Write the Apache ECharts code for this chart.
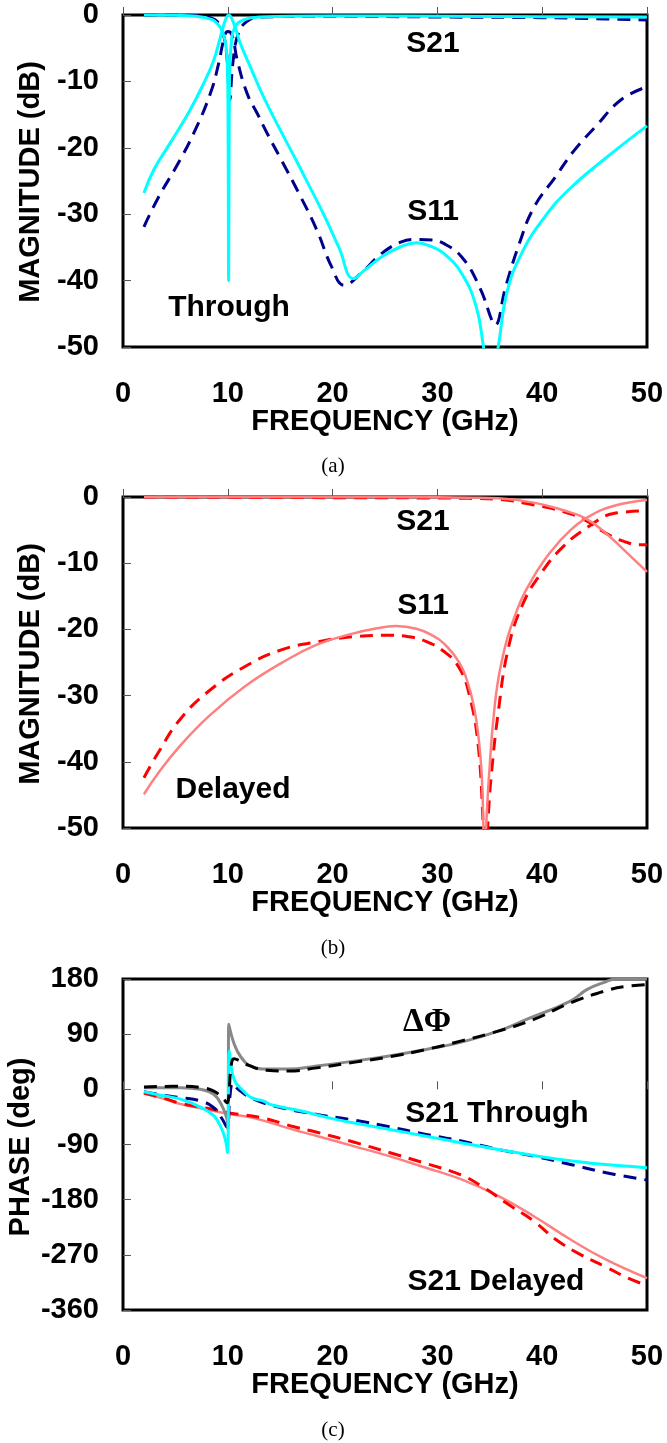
<!DOCTYPE html>
<html><head><meta charset="utf-8">
<script src="https://cdn.jsdelivr.net/npm/echarts@6/dist/echarts.min.js"></script>
<style>html,body{margin:0;padding:0;background:#fff}#c{width:667px;height:1443px}</style>
</head><body><div id="c"></div>
<script>
// ---------- x axis ----------
const xTicks = [0, 10, 20, 30, 40, 50];

// ---------- (a) Through: magnitude (dB) ----------
const aS11MeasF = [2, 2.94, 4.5, 6.4, 7.7, 8.66, 9.3, 9.77, 10.09, 10.56, 11.2, 12.15, 13.4, 15.0, 16.5, 17.5, 19.2, 20.6, 22.0, 23.0, 24.7, 26.5, 28, 29.5, 30.6, 32.3, 33.7, 34.4, 35.0, 35.8, 36.6, 38.0, 40.2, 42.6, 46.1, 50];
const aS11MeasV = [-26.8, -23.3, -19.3, -14.3, -10.3, -6.8, -3.3, -0.75, 0, -1.25, -4.3, -7.8, -12.3, -17.3, -21.8, -24.9, -30.2, -35.0, -39.7, -38.5, -36.4, -34.9, -34.3, -34.9, -35.9, -38.9, -43.9, -50, -56, -50, -42, -36, -30.5, -26.2, -21.5, -16.7];
const aS11SimF = [2, 3.4, 5.17, 6.75, 8.34, 9.13, 9.6, 9.99, 10.4, 10.9, 11.84, 12.8, 13.75, 15.1, 16.8, 18.5, 19.9, 21.1, 22.7, 24.7, 26.5, 27.8, 29.5, 30.6, 32.3, 34.0, 35.3, 35.5, 36.5, 37.8, 39.2, 41.3, 43, 45.1, 47.5, 50];
const aS11SimV = [-31.9, -27.4, -22.6, -17.8, -11.8, -7.3, -3.8, -2.5, -3, -6.8, -11.8, -14.8, -17.8, -21.8, -26.9, -32.4, -37.9, -40.7, -38.9, -35.9, -34.2, -33.8, -33.9, -34.4, -36.4, -40.9, -46.4, -46.7, -41, -34.5, -29, -24.3, -20.5, -16.8, -12.8, -10.8];
const aS21MeasF = [2, 5, 7, 8.5, 9.0, 9.5, 9.85, 10.0, 10.08, 10.16, 10.35, 10.7, 11.5, 13, 20, 30, 40, 50];
const aS21MeasV = [0, -0.05, -0.2, -0.7, -1.3, -2.5, -5, -10, -40, -10, -4, -1.75, -0.75, -0.3, -0.15, -0.2, -0.25, -0.3];
const aS21SimF = [2, 5, 7, 8.5, 9.0, 9.5, 9.9, 10.18, 10.5, 11.0, 11.8, 13, 20, 30, 40, 45, 50];
const aS21SimV = [0, 0, -0.1, -0.5, -1.0, -2.5, -6, -12.8, -7, -2.8, -1, -0.3, -0.2, -0.3, -0.4, -0.55, -0.75];

// ---------- (b) Delayed: magnitude (dB) ----------
const bS11MeasF = [2, 3.37, 5.44, 8.2, 11.65, 15.1, 18.5, 22.0, 24, 26, 28, 29.5, 30.6, 32.0, 33.0, 33.7, 34.2, 34.5, 34.9, 35.4, 36.1, 37.5, 39.2, 40.95, 42.7, 44.4, 46.8, 50];
const bS11MeasV = [-44.9, -41.7, -37.6, -33.1, -28.6, -25.1, -22.3, -20.6, -19.9, -19.5, -19.9, -20.9, -22.1, -24.8, -28.6, -33.6, -41.2, -52, -42.7, -32.6, -25.1, -17.5, -12.0, -8.0, -5.0, -3.0, -1.36, -0.45];
const bS11SimF = [2, 3.37, 5.44, 8.2, 11.65, 15.1, 18.5, 22.0, 25.4, 27.2, 28.9, 30.6, 32.0, 33.0, 33.9, 34.6, 35.1, 35.8, 36.8, 38.2, 39.9, 42.0, 44.4, 46.8, 50];
const bS11SimV = [-42.4, -38.6, -33.6, -29.3, -25.6, -23.1, -21.9, -21.1, -20.9, -21.1, -21.8, -23.3, -25.6, -29.6, -37.6, -52, -42.7, -32.6, -22.6, -16.0, -11.5, -7.5, -4.5, -2.5, -2.1];
const bS21MeasF = [2, 10, 20, 30, 33, 35.8, 39.2, 42.0, 44.1, 46.1, 47.8, 50];
const bS21MeasV = [0, 0, 0, -0.05, -0.1, -0.2, -0.85, -2.0, -3.2, -5.5, -8.0, -11.3];
const bS21SimF = [2, 10, 20, 30, 33, 35.8, 39.2, 42.0, 44.1, 46.1, 47.8, 49.3, 50];
const bS21SimV = [0, -0.05, -0.1, -0.15, -0.2, -0.35, -1.2, -2.2, -3.5, -5.5, -6.7, -7.2, -7.2];

// ---------- (c) Phase (deg) ----------
const cDPhiMeasF = [2, 5.5, 7.4, 8.66, 9.45, 9.93, 10.03, 10.09, 10.57, 11.2, 12.3, 13.7, 15.8, 18.5, 22, 25.4, 28.9, 32.3, 35.8, 38.5, 42.7, 44.3, 46, 47, 50];
const cDPhiMeasV = [2.7, 2.7, 0, -8, -27, -49, -65, 106, 76, 54, 37, 33, 33, 38, 46, 54.5, 65, 77, 95, 114, 144, 163, 175, 180, 180];
const cDPhiSimF = [2, 5.5, 7.4, 8.66, 9.6, 9.93, 10.1, 10.3, 10.6, 11.2, 12, 13.7, 15.8, 18.5, 22, 25.4, 28.9, 32.3, 35.8, 39.2, 42.7, 46.5, 48, 50];
const cDPhiSimV = [4, 5, 3, -3, -16, -22, -10, 35, 50, 46, 39, 31, 30, 35, 44, 53, 65, 79, 95, 114, 141, 163, 168, 171];
const cThruMeasF = [2, 4, 5.5, 7.4, 8.66, 9.3, 9.77, 9.97, 10.15, 10.6, 11.5, 12.3, 13.4, 14.1, 16.9, 20.3, 23.7, 27.2, 30.6, 34.1, 37.5, 41.0, 44.4, 47.8, 50];
const cThruMeasV = [-4, -11, -16, -29, -43, -60, -82, -103, 62, 16, -3, -14, -19, -25, -35, -49, -60, -71, -82, -93, -103, -113, -120, -125, -128];
const cThruSimF = [2, 4, 5.5, 7.4, 8.66, 9.45, 9.93, 10.2, 10.5, 11.0, 12.47, 15.1, 18.5, 22, 25.4, 28.9, 32.3, 35.8, 39.2, 42.7, 46.1, 50];
const cThruSimV = [-4, -10, -13.6, -19, -30, -48, -62, -12, 10, 0, -16, -30, -41, -50, -61, -73.5, -84.4, -98, -109, -122.5, -136, -148];
const cDelMeasF = [2, 4, 5.5, 7.4, 8.66, 10.25, 11.65, 13.4, 15.1, 16.9, 18.5, 22, 25.4, 28.9, 32.3, 35.8, 39.2, 42.7, 46.1, 50];
const cDelMeasV = [-7, -16, -24, -31, -35.4, -40.8, -44, -51, -60, -69, -76, -92.6, -109, -128, -147, -174, -207, -245, -278, -308];
const cDelSimF = [2, 4, 5.5, 7.4, 8.66, 10.25, 11.65, 13.4, 15.1, 16.3, 18.5, 22, 25.4, 28.9, 32.3, 34.4, 36.8, 39.2, 41.3, 43.7, 46.1, 48.2, 50];
const cDelSimV = [-6, -15, -23, -29, -33, -39, -42, -47, -55, -61, -70, -86, -103, -121, -140, -160, -188, -215, -245, -270, -290, -308, -320];

// ---------- helpers ----------
const FONT = '"Liberation Sans", Arial, sans-serif';
const SERIF = '"Liberation Serif", "Times New Roman", serif';
const DASH = [13, 8];
function pairs(fs, vs) { return fs.map((f, i) => [f, vs[i]]); }
function line(fs, vs, gi, color, width, dashed) {
  return {
    type: 'line', xAxisIndex: gi, yAxisIndex: gi, data: pairs(fs, vs),
    showSymbol: false, symbol: 'none', smooth: 0.45,
    lineStyle: { color: color, width: width, type: dashed ? DASH : 'solid', cap: 'butt', join: 'round' },
    clip: true, silent: true, animation: false
  };
}
function xAx(gi) {
  return {
    type: 'value', gridIndex: gi, min: xTicks[0], max: xTicks[xTicks.length - 1], interval: xTicks[1] - xTicks[0],
    axisLine: { show: false }, splitLine: { show: false },
    axisTick: { show: true, inside: true, length: 8, lineStyle: { color: '#555', width: 1 } },
    axisLabel: { margin: 32, color: '#000', fontSize: 29, fontWeight: 'bold', fontFamily: FONT }
  };
}
function yAx(gi, min, max, interval) {
  return {
    type: 'value', gridIndex: gi, min: min, max: max, interval: interval,
    axisLine: { show: false }, splitLine: { show: false },
    axisTick: { show: true, inside: true, length: 8, lineStyle: { color: '#555', width: 1 } },
    axisLabel: { margin: 24, color: '#000', fontSize: 29, fontWeight: 'bold', fontFamily: FONT }
  };
}
function txt(t, x, y, size, rot, family, weight) {
  return {
    type: 'text', x: x, y: y, rotation: rot || 0, silent: true,
    style: {
      text: t, fill: '#000',
      font: (weight || 'bold') + ' ' + size + 'px ' + (family || FONT),
      textAlign: 'center', textVerticalAlign: 'middle', align: 'center', verticalAlign: 'middle'
    }
  };
}
const gridBase = { left: 123, width: 524, show: true, borderColor: '#000', borderWidth: 3, backgroundColor: 'transparent' };

const CYAN = '#00FFFF', NAVY = '#00008B', PINK = '#FF8080', RED = '#FF0000', GRAY = '#888888', BLACK = '#000000';

const option = {
  animation: false,
  backgroundColor: '#fff',
  grid: [
    Object.assign({ top: 15, height: 332 }, gridBase),
    Object.assign({ top: 497, height: 331 }, gridBase),
    Object.assign({ top: 979, height: 331 }, gridBase)
  ],
  xAxis: [xAx(0), xAx(1), xAx(2)],
  yAxis: [yAx(0, -50, 0, 10), yAx(1, -50, 0, 10), yAx(2, -360, 180, 90)],
  series: [
    line(aS21SimF, aS21SimV, 0, NAVY, 3, true),
    line(aS11SimF, aS11SimV, 0, NAVY, 3, true),
    line(aS21MeasF, aS21MeasV, 0, CYAN, 3, false),
    line(aS11MeasF, aS11MeasV, 0, CYAN, 3, false),

    line(bS21SimF, bS21SimV, 1, RED, 3, true),
    line(bS11SimF, bS11SimV, 1, RED, 3, true),
    line(bS21MeasF, bS21MeasV, 1, PINK, 2.5, false),
    line(bS11MeasF, bS11MeasV, 1, PINK, 2.5, false),

    line(cDelMeasF, cDelMeasV, 2, PINK, 2.5, false),
    line(cDelSimF, cDelSimV, 2, RED, 3, true),
    line(cThruSimF, cThruSimV, 2, NAVY, 3, true),
    line(cDPhiMeasF, cDPhiMeasV, 2, GRAY, 3, false),
    line(cThruMeasF, cThruMeasV, 2, CYAN, 3, false),
    line(cDPhiSimF, cDPhiSimV, 2, BLACK, 3, true)
  ],
  graphic: [
    // axis titles
    txt('FREQUENCY (GHz)', 385, 422, 29),
    txt('FREQUENCY (GHz)', 385, 903, 29),
    txt('FREQUENCY (GHz)', 385, 1385, 29),
    txt('MAGNITUDE (dB)', 31, 182, 29, Math.PI / 2),
    txt('MAGNITUDE (dB)', 31, 664, 29, Math.PI / 2),
    txt('PHASE (deg)', 21, 1147, 29, Math.PI / 2),
    // annotations
    txt('S21', 433, 44, 30),
    txt('S11', 433, 212, 30),
    txt('Through', 229, 308, 30),
    txt('S21', 423, 522, 30),
    txt('S11', 423, 606, 30),
    txt('Delayed', 233, 790, 30),
    txt('ΔΦ', 427, 1022, 33, 0, SERIF),
    txt('S21 Through', 497, 1114, 30),
    txt('S21 Delayed', 496, 1282, 30),
    // captions
    txt('(a)', 333, 466, 21, 0, SERIF, 'normal'),
    txt('(b)', 333, 948, 21, 0, SERIF, 'normal'),
    txt('(c)', 333, 1430, 21, 0, SERIF, 'normal')
  ]
};

const chart = echarts.init(document.getElementById('c'), null, { renderer: 'canvas', width: 667, height: 1443 });
chart.setOption(option);
</script></body></html>
